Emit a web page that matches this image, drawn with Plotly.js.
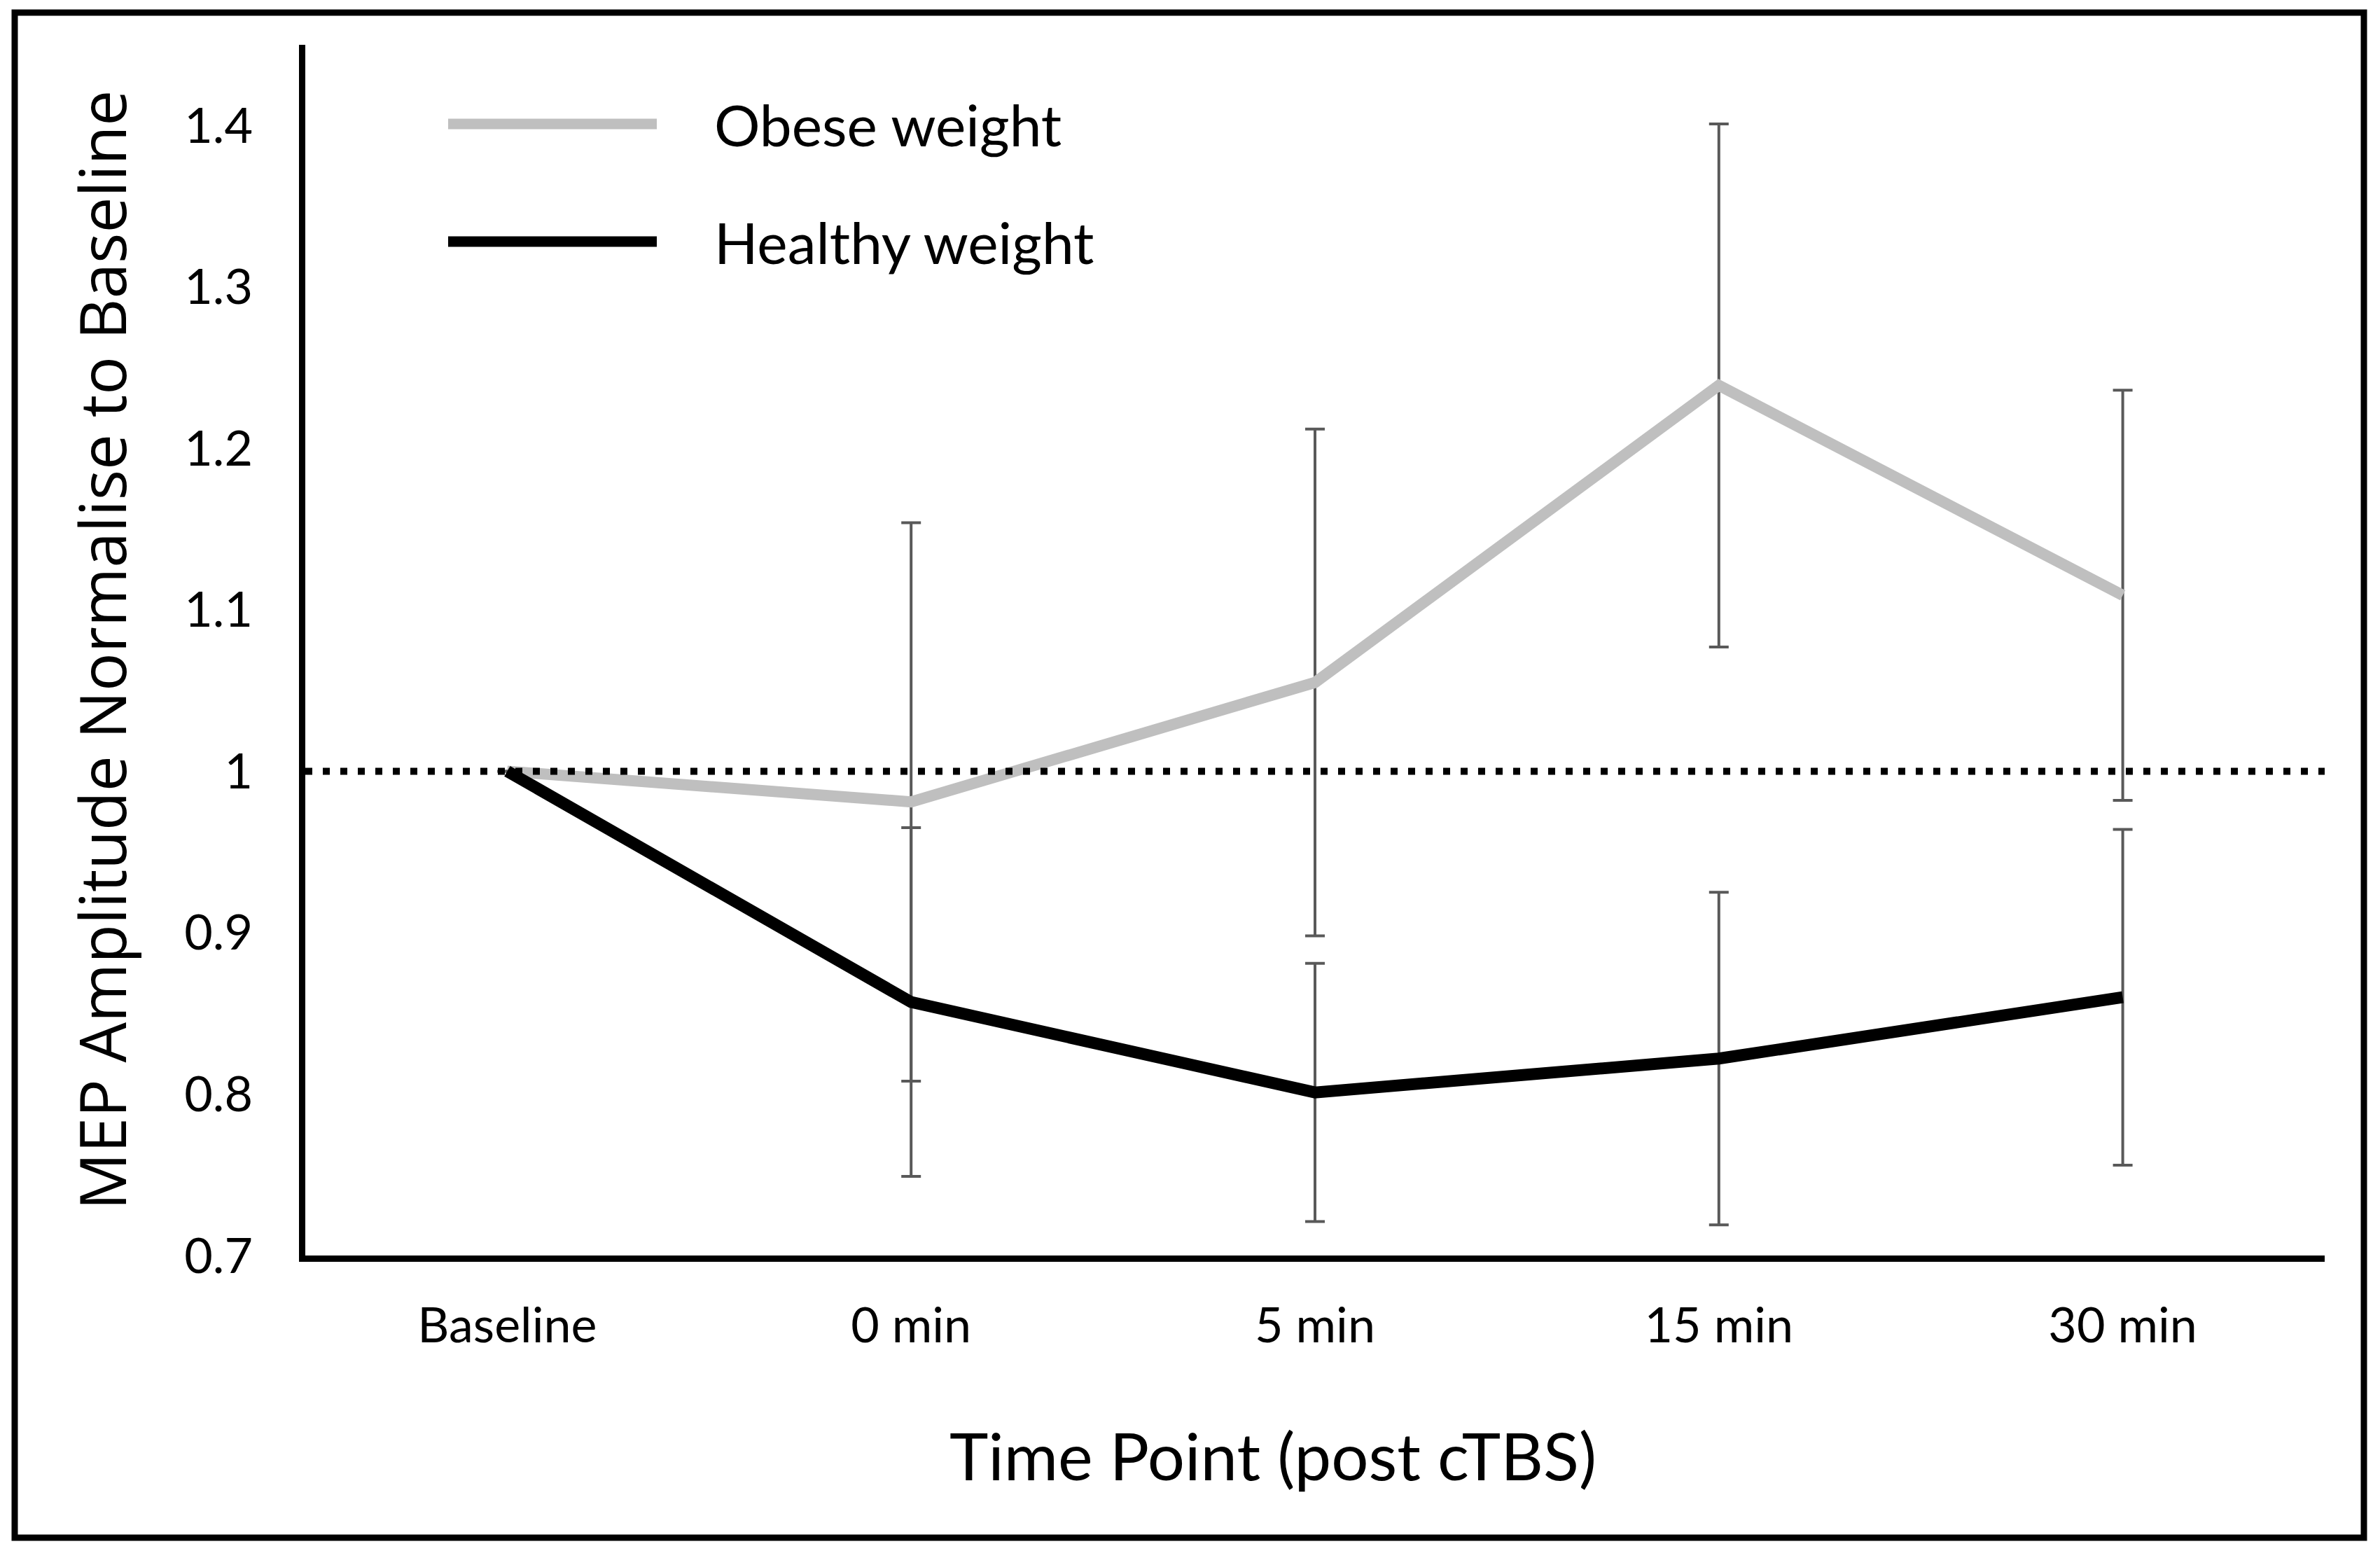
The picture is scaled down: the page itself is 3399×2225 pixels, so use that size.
<!DOCTYPE html>
<html>
<head>
<meta charset="utf-8">
<script src="https://cdn.plot.ly/plotly-3.0.1.min.js"></script>
<style>
  html, body { margin: 0; padding: 0; background: #fff; }
  #chart { width: 3399px; height: 2225px; }
</style>
</head>
<body>
<div id="chart"></div>
<script>
var timePoints = ['Baseline', '0 min', '5 min', '15 min', '30 min'];

var obeseMean = [1.0, 0.981, 1.055, 1.239, 1.109];
var obeseErr = [null, 0.173, 0.157, 0.162, 0.127];

var healthyMean = [1.0, 0.857, 0.801, 0.822, 0.860];
var healthyErr = [null, 0.108, 0.080, 0.103, 0.104];

var yTickVals = [0.7, 0.8, 0.9, 1.0, 1.1, 1.2, 1.3, 1.4];
var yTickText = ['0.7', '0.8', '0.9', '1', '1.1', '1.2', '1.3', '1.4'];

var seriesNames = ['Obese weight', 'Healthy weight'];
var refLevel = 1;

// page size and plot box, in pixels
var W = 3399, H = 2225;
var L = 436, R = 79, T = 64, B = 432;
var PW = W - L - R, PH = H - T - B;

// pixel -> paper helpers for the decorations outside the data
function px(x) { return (x - L) / PW; }
function py(y) { return (H - B - y) / PH; }

var colors = ['#bfbfbf', '#000000'];
var errColor = '#595959';
var calibriLike = 'Lato, "Open Sans", sans-serif';

var data = [
  {
    x: timePoints,
    y: obeseMean,
    name: seriesNames[0],
    type: 'scatter',
    mode: 'lines',
    line: { color: colors[0], width: 16 },
    error_y: { type: 'data', array: obeseErr, visible: true, color: errColor, thickness: 4, width: 14 }
  },
  {
    x: timePoints,
    y: healthyMean,
    name: seriesNames[1],
    type: 'scatter',
    mode: 'lines',
    line: { color: colors[1], width: 17 },
    error_y: { type: 'data', array: healthyErr, visible: true, color: errColor, thickness: 4, width: 14 }
  }
];

var tickFont = { family: calibriLike, size: 70, color: '#000' };

var layout = {
  width: W,
  height: H,
  showlegend: false,
  paper_bgcolor: '#fff',
  plot_bgcolor: '#fff',
  margin: { l: L, r: R, t: T, b: B, autoexpand: false },
  xaxis: {
    type: 'category',
    range: [-0.5, 4.5],
    showgrid: false,
    zeroline: false,
    showline: true,
    linecolor: '#000',
    linewidth: 9,
    ticks: '',
    tickfont: tickFont,
    ticklabelstandoff: 31,
    fixedrange: true
  },
  yaxis: {
    range: [0.7, 1.45],
    tickvals: yTickVals,
    ticktext: yTickText,
    showgrid: false,
    zeroline: false,
    showline: true,
    linecolor: '#000',
    linewidth: 9,
    ticks: '',
    tickfont: tickFont,
    ticklabelstandoff: 52,
    title: {
      text: 'MEP Amplitude Normalise to Baseline',
      font: { family: '"Open Sans", "DejaVu Sans", sans-serif', size: 91, color: '#000' },
      standoff: 56
    },
    fixedrange: true
  },
  shapes: [
    // dotted reference line at baseline level
    {
      type: 'line', xref: 'paper', yref: 'y',
      x0: 0, x1: 1, y0: refLevel, y1: refLevel,
      line: { color: '#000', width: 10, dash: '10px,15px' },
      layer: 'above'
    },
    // legend samples
    {
      type: 'line', xref: 'paper', yref: 'paper',
      x0: px(640), x1: px(938), y0: py(177), y1: py(177),
      line: { color: colors[0], width: 15 }
    },
    {
      type: 'line', xref: 'paper', yref: 'paper',
      x0: px(640), x1: px(938), y0: py(345), y1: py(345),
      line: { color: colors[1], width: 15 }
    },
    // outer frame
    {
      type: 'rect', xref: 'paper', yref: 'paper',
      x0: px(21), x1: px(3376), y0: py(2196), y1: py(18),
      line: { color: '#000', width: 9 }
    }
  ],
  annotations: [
    {
      xref: 'paper', yref: 'paper',
      x: px(1018), y: py(177),
      xanchor: 'left', yanchor: 'middle',
      text: seriesNames[0],
      showarrow: false,
      font: { family: calibriLike, size: 82, color: '#000' }
    },
    {
      xref: 'paper', yref: 'paper',
      x: px(1018), y: py(345),
      xanchor: 'left', yanchor: 'middle',
      text: seriesNames[1],
      showarrow: false,
      font: { family: calibriLike, size: 82, color: '#000' }
    },
    // x axis title, placed where the original sits (a little left of centre)
    {
      xref: 'paper', yref: 'paper',
      x: px(1818), y: py(2077),
      xanchor: 'center', yanchor: 'middle',
      text: 'Time Point (post cTBS)',
      showarrow: false,
      font: { family: calibriLike, size: 94, color: '#000' }
    }
  ]
};

Plotly.newPlot('chart', data, layout, { displayModeBar: false, staticPlot: true });
</script>
</body>
</html>
